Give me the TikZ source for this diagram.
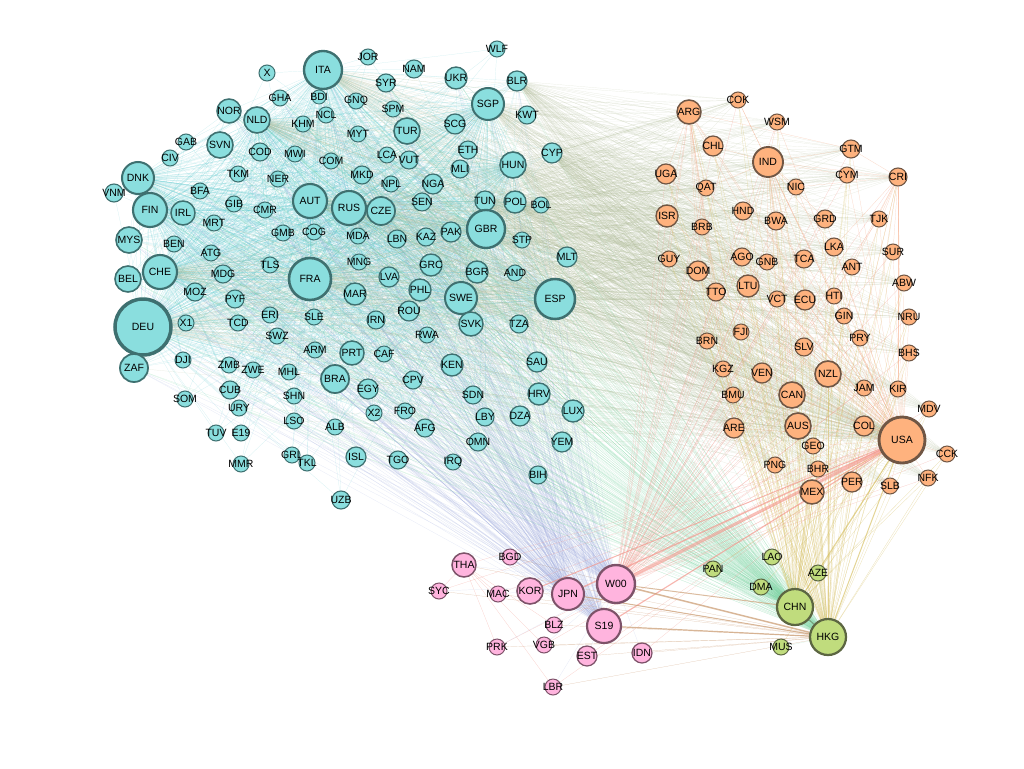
\documentclass[tikz,border=0pt]{standalone}
\usepackage{fontspec}
\setmainfont{Liberation Sans}
\usepackage{xcolor}
\usepackage{tikz}
\usetikzlibrary{backgrounds}
\definecolor{cyanfill}{RGB}{138,222,222}
\definecolor{cyanline}{RGB}{62,112,112}
\definecolor{orangefill}{RGB}{254,178,126}
\definecolor{orangeline}{RGB}{112,86,68}
\definecolor{pinkfill}{RGB}{255,180,222}
\definecolor{pinkline}{RGB}{125,82,105}
\definecolor{greenfill}{RGB}{192,220,125}
\definecolor{greenline}{RGB}{92,102,66}
\definecolor{cyanedge}{RGB}{95,205,210}
\definecolor{beigeedge}{RGB}{175,188,150}
\definecolor{lavedge}{RGB}{160,172,225}
\definecolor{mintedge}{RGB}{110,212,155}
\definecolor{orangeedge}{RGB}{245,160,120}
\definecolor{salmonedge}{RGB}{245,150,140}
\definecolor{yellowedge}{RGB}{210,185,80}
\definecolor{tanedge}{RGB}{205,160,120}

% name lists for the links
\def\cyanhubs{DEU,FRA,ITA,GBR,ESP}
\def\cyanminor{AUT,RUS,CHE,FIN,DNK,SWE,SGP,CZE,NLD,HUN}
\def\cyancore{DEU,ZAF,BEL,CHE,MYS,FIN,DNK,SVN,NOR,NLD,GHA,ITA,BDI,NCL,KHM,SYR,GNQ,SPM,UKR,BLR,SGP,MYT,TUR,SCG,COD,MWI,COM,LCA,VUT,ETH,MLI,HUN,TKM,NER,MKD,NPL,NGA,BFA,GIB,CMR,AUT,RUS,CZE,SEN,TUN,POL,BOL,IRL,MRT,GMB,COG,MDA,LBN,KAZ,PAK,GBR,STP,BEN,ATG,MLT,TLS,MDG,MNG,GRC,LVA,FRA,BGR,AND,MOZ,PYF,MAR,PHL,SWE,ESP,X1,TCD,ERI,SLE,IRN,ROU,RWA,SVK,TZA,SWZ,ARM,PRT,CAF,KEN,SAU,DJI,ZMB,ZWE,MHL,BRA,EGY,CPV,SDN,HRV,LUX,CUB,SHN,URY,X2,FRO,AFG,LBY,DZA,LSO,ALB,OMN}
\def\cyanouter{VNM,CIV,GAB,X,JOR,NAM,WLF,KWT,CYP,SOM,TUV,E19,MMR,GRL,TKL,ISL,TGO,IRQ,YEM,BIH,UZB}
\def\orangelist{COK,ARG,WSM,CHL,IND,GTM,UGA,QAT,NIC,CYM,CRI,ISR,BRB,HND,BWA,GRD,TJK,LKA,GUY,DOM,AGO,GNB,TCA,ANT,SUR,TTO,LTU,VCT,ECU,HTI,ABW,GIN,NRU,FJI,PRY,BRN,SLV,BHS,KGZ,VEN,NZL,JAM,KIR,CAN,BMU,MDV,ARE,AUS,COL,GEO,CCK,PNG,BHR,PER,SLB,NFK,MEX}
\def\pinklist{THA,BGD,SYC,MAC,KOR,JPN,BLZ,S19,PRK,VGB,EST,IDN,LBR}
\def\greenlist{PAN,LAO,AZE,DMA,MUS}

\begin{document}
\begin{tikzpicture}[
    x=1pt, y=-1pt,
    country/.style={circle, inner sep=0pt, text=black,
                    font=\fontsize{10.5}{11}\selectfont},
    cyannode/.style={country, fill=cyanfill, draw=cyanline},
    orangenode/.style={country, fill=orangefill, draw=orangeline},
    pinknode/.style={country, fill=pinkfill, draw=pinkline},
    greennode/.style={country, fill=greenfill, draw=greenline},
    link/.style={line width=0.2pt, opacity=0.3},
    cyanlink/.style={link, draw=cyanedge},
    beigelink/.style={link, draw=beigeedge},
    lavlink/.style={link, draw=lavedge},
    mintlink/.style={link, draw=mintedge},
    orangelink/.style={link, draw=orangeedge, opacity=0.5},
    salmonlink/.style={link, draw=salmonedge, opacity=0.5},
    yellowlink/.style={link, draw=yellowedge, opacity=0.5},
    tanlink/.style={link, draw=tanedge, opacity=0.6}
]
\useasboundingbox (0,0) rectangle (1024,768);

% Europe, Africa and the rest (cyan)
\foreach \n/\x/\y/\r in {DEU/143/327/28, ZAF/134/368/14, BEL/128/279/13, CHE/160/272/17,
    MYS/129/240/13, FIN/150/210/17, DNK/138/178/16, VNM/114/193/9, CIV/170/158/8,
    GAB/186/142/8, SVN/220/145/13, NOR/229/111/12, NLD/257/120/13, X/267/73/8,
    GHA/280/98/8, ITA/323/70/19, BDI/319/97/7, NCL/326/115/8, KHM/303/124/8,
    JOR/368/57/8, SYR/386/83/9, NAM/414/69/9, GNQ/356/101/8, SPM/393/109/8,
    UKR/456/78/11, WLF/497/49/8, BLR/517/81/10, SGP/488/104/16, KWT/527/115/9,
    MYT/358/134/8, TUR/407/131/13, SCG/455/124/10, COD/260/152/9, MWI/295/154/8,
    COM/331/161/8, LCA/387/155/8, VUT/409/160/9, ETH/468/150/9, CYP/552/153/10,
    MLI/460/169/9, HUN/513/165/13, TKM/238/174/8, NER/278/179/8, MKD/362/175/9,
    NPL/391/184/8, NGA/433/184/10, BFA/200/191/8, GIB/234/204/8, CMR/265/210/8,
    AUT/310/201/17, RUS/349/208/17, CZE/381/211/14, SEN/422/202/9, TUN/485/201/10,
    POL/515/202/11, BOL/541/205/8, IRL/183/213/12, MRT/214/223/8, GMB/283/233/8,
    COG/314/232/8, MDA/358/236/8, LBN/397/239/9, KAZ/426/237/9, PAK/451/232/10,
    GBR/486/229/19, STP/522/240/8, BEN/174/244/8, ATG/211/253/8, MLT/567/257/10,
    TLS/270/265/8, MDG/223/274/9, MNG/359/262/8, GRC/431/265/11, LVA/389/277/10,
    FRA/310/279/21, BGR/477/272/11, AND/515/273/8, MOZ/195/292/9, PYF/235/299/9,
    MAR/355/294/11, PHL/420/290/11, SWE/461/298/16, ESP/555/299/20, X1/186/323/8,
    TCD/238/323/8, ERI/270/315/8, SLE/314/317/8, IRN/376/320/9, ROU/409/311/10,
    RWA/427/335/8, SVK/471/324/12, TZA/519/324/9, SWZ/277/336/8, ARM/315/350/8,
    PRT/352/353/12, CAF/384/354/8, KEN/452/365/11, SAU/537/362/10, DJI/183/360/8,
    ZMB/229/365/8, ZWE/253/370/8, MHL/289/372/8, BRA/335/379/14, EGY/368/389/10,
    CPV/413/380/9, SDN/473/395/9, HRV/539/394/11, LUX/573/411/11, CUB/230/390/9,
    SHN/294/396/8, SOM/185/399/8, URY/239/408/8, X2/374/413/8, FRO/405/411/8,
    AFG/425/428/9, LBY/485/417/9, DZA/520/416/10, LSO/294/421/8, ALB/335/427/8,
    ISL/356/457/10, OMN/478/442/9, YEM/562/442/10, TUV/216/433/8, E19/241/433/8,
    GRL/292/455/8, TKL/307/463/8, TGO/398/460/9, IRQ/453/462/8, MMR/241/464/8,
    BIH/538/475/9, UZB/341/500/9}
  \node[cyannode, minimum size=2*\r pt, line width=\r/8 pt] (\n) at (\x,\y) {\makebox[0pt]{\n}};

% Americas, Oceania (orange)
\foreach \n/\x/\y/\r in {COK/738/100/8, ARG/689/112/12, WSM/777/122/8, CHL/713/146/10,
    IND/768/162/15, GTM/851/149/9, UGA/666/174/10, QAT/706/188/8, NIC/796/187/8,
    CYM/847/175/8, CRI/898/177/9, ISR/667/216/11, BRB/702/227/8, HND/743/211/9,
    BWA/776/221/9, GRD/825/219/9, TJK/879/219/8, LKA/834/247/9, GUY/669/259/8,
    DOM/698/271/10, AGO/742/257/9, GNB/767/262/8, TCA/804/259/9, ANT/852/267/8,
    SUR/893/252/8, TTO/716/292/9, LTU/748/286/11, VCT/777/299/8, ECU/805/300/10,
    HTI/834/296/8, ABW/904/283/8, GIN/844/316/8, NRU/909/317/8, FJI/741/332/8,
    PRY/860/338/8, BRN/707/341/8, SLV/804/347/9, BHS/909/353/8, KGZ/723/369/8,
    VEN/762/373/10, NZL/828/374/13, JAM/864/388/8, KIR/898/389/8, CAN/792/395/13,
    BMU/733/395/8, MDV/929/409/8, ARE/734/428/10, AUS/798/426/13, COL/864/426/10,
    USA/902/440/23, GEO/813/446/8, CCK/947/454/8, PNG/775/465/8, BHR/818/469/8,
    PER/852/482/10, SLB/890/486/8, NFK/928/478/8, MEX/812/492/12}
  \node[orangenode, minimum size=2*\r pt, line width=\r/8 pt] (\n) at (\x,\y) {\makebox[0pt]{\n}};

% East Asia (pink)
\foreach \n/\x/\y/\r in {THA/464/565/12, BGD/510/557/8, SYC/439/591/8, MAC/498/594/8,
    KOR/530/591/13, JPN/568/594/16, W00/616/584/19, BLZ/554/625/8, S19/604/626/17,
    PRK/497/647/8, VGB/544/645/8, EST/587/656/10, IDN/642/653/10, LBR/553/687/8}
  \node[pinknode, minimum size=2*\r pt, line width=\r/8 pt] (\n) at (\x,\y) {\makebox[0pt]{\n}};

% China block (green)
\foreach \n/\x/\y/\r in {PAN/713/569/8, LAO/772/557/8, AZE/818/573/8, DMA/761/587/8,
    CHN/795/607/18, HKG/828/637/18, MUS/781/647/8}
  \node[greennode, minimum size=2*\r pt, line width=\r/8 pt] (\n) at (\x,\y) {\makebox[0pt]{\n}};

\begin{scope}[on background layer]
\fill[white] (0,0) rectangle (1024,768);

% cyan web
\foreach \a in \cyancore {
  \foreach \b in \cyanhubs {\ifx\a\b\else\draw[cyanlink] (\a) -- (\b);\fi}
  \foreach \b in \cyanminor {\ifx\a\b\else\draw[cyanlink] (\a) -- (\b);\fi}
}
\foreach \a in \cyanouter {
  \foreach \b in {DEU,ITA,GBR,FRA} {\draw[cyanlink] (\a) -- (\b);}
}

% cyan to the other blocks
\foreach \a in \cyancore {
  \draw[beigelink] (\a) -- (USA);
  \draw[lavlink] (\a) -- (W00);
  \draw[lavlink] (\a) -- (JPN);
  \draw[lavlink] (\a) -- (S19);
  \draw[mintlink] (\a) -- (CHN);
  \draw[mintlink] (\a) -- (HKG);
}
\foreach \a in \orangelist {
  \foreach \b in {DEU,FRA,ITA,GBR,ESP,SGP,HUN,CYP,AUT,RUS,SWE,CHE,NLD,POL,TUN,BLR}
    {\draw[beigelink] (\a) -- (\b);}
}

% orange block
\foreach \a in \orangelist {
  \draw[orangelink] (\a) -- (USA);
  \draw[salmonlink] (\a) -- (W00);
  \draw[yellowlink] (\a) -- (HKG);
  \draw[yellowlink] (\a) -- (CHN);
}
\foreach \a in {COK,WSM,CHL,GTM,QAT,NIC,CYM,CRI,BWA,GRD,LKA,AGO,GNB,TCA,ECU,HTI,LTU,VCT,SLV,NZL,CAN,AUS}
  \draw[orangelink] (\a) -- (IND);
\foreach \a in {CHL,UGA,QAT,ISR,BRB,HND,GUY,DOM,TTO,BRN,KGZ,BMU,ARE,GTM}
  \draw[orangelink] (\a) -- (ARG);
\foreach \a in {GTM,CYM,TJK,LKA,ANT,SUR,HTI,GIN,PRY,JAM,KIR,NIC}
  \draw[orangelink] (\a) -- (CRI);

% east asia and china
\foreach \a in \pinklist {
  \draw[salmonlink] (\a) -- (USA);
  \draw[tanlink] (\a) -- (HKG);
}
\foreach \a in {THA,SYC,MAC,KOR,BLZ,PRK,VGB,EST,IDN,LBR,BGD}
  \draw[lavlink] (\a) -- (W00);
\foreach \a in {SYC,MAC,PRK,BLZ,VGB,LBR}
  \draw[salmonlink] (\a) -- (THA);
\foreach \a in \greenlist {
  \draw[yellowlink] (\a) -- (USA);
  \draw[mintlink] (\a) -- (HKG);
}

% heavy links
\draw[salmonedge, line width=3pt, opacity=0.6] (W00) -- (USA);
\draw[salmonedge, line width=1.5pt, opacity=0.6] (JPN) -- (USA);
\draw[salmonedge, line width=1.2pt, opacity=0.6] (S19) -- (USA);
\draw[salmonedge, line width=1pt, opacity=0.6] (KOR) -- (USA);
\draw[tanedge, line width=1.5pt, opacity=0.7] (W00) -- (HKG);
\draw[tanedge, line width=1.2pt, opacity=0.7] (S19) -- (HKG);
\draw[tanedge, line width=1pt, opacity=0.7] (JPN) -- (HKG);
\draw[tanedge, line width=1pt, opacity=0.7] (W00) -- (CHN);
\draw[yellowedge, line width=1pt, opacity=0.6] (CHN) -- (USA);
\draw[yellowedge, line width=1pt, opacity=0.6] (HKG) -- (USA);
\draw[orangeedge, line width=1pt, opacity=0.6] (MEX) -- (USA);
\draw[greenline, line width=1pt, opacity=0.5] (CHN) -- (HKG);
\end{scope}

\end{tikzpicture}
\end{document}
